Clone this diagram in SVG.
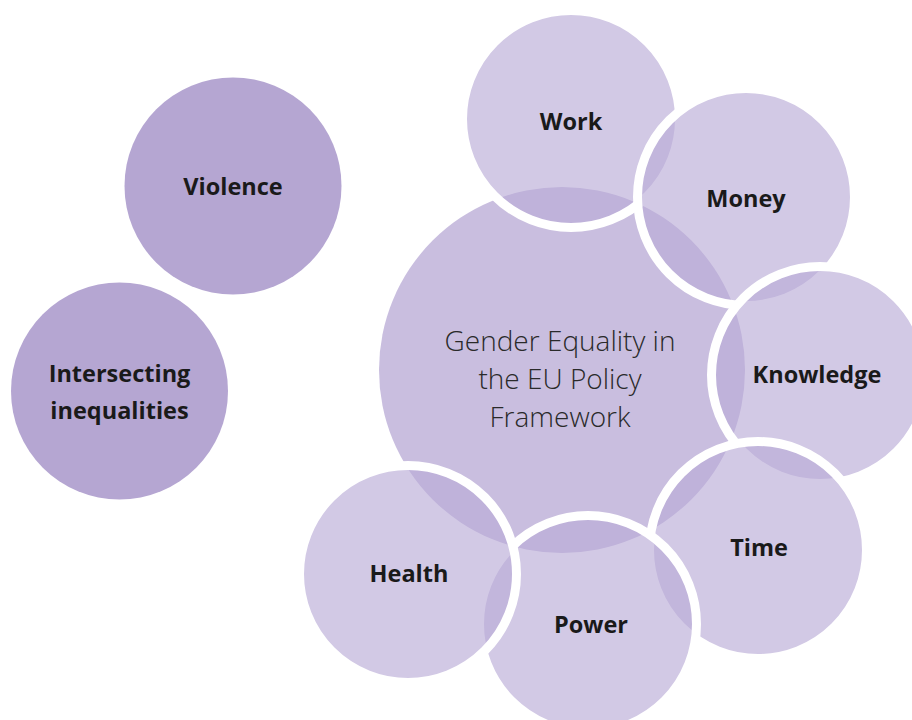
<svg xmlns="http://www.w3.org/2000/svg" width="912" height="720" viewBox="0 0 912 720">
<style>
.bg{fill:#ffffff}
.dark{fill:#b5a6d2}
.center{fill:#c9bedf}
.sat{fill:#b8aad6;fill-opacity:0.64;stroke:#ffffff;stroke-width:9}
.lbl{font-family:"Open Sans","Noto Sans","Liberation Sans",sans-serif;font-weight:700;font-size:23.5px;fill:#1a1a1a;text-anchor:middle}
.ctr{font-family:"Open Sans","Noto Sans","Liberation Sans",sans-serif;font-weight:300;font-size:28px;fill:#2a2a2a;text-anchor:middle}
</style>
<rect class="bg" x="0" y="0" width="912" height="720"/>
<g id="violence">
<circle class="dark" cx="233" cy="186" r="108.5"/>
<text class="lbl" x="233" y="195">Violence</text>
</g>
<g id="intersecting">
<circle class="dark" cx="119.5" cy="391" r="108.5"/>
<text class="lbl" x="119.5" y="382">Intersecting</text>
<text class="lbl" x="119.5" y="419">inequalities</text>
</g>
<g id="center">
<circle class="center" cx="562" cy="370" r="183"/>
<text class="ctr" x="560" y="351">Gender Equality in</text>
<text class="ctr" x="560" y="389">the EU Policy</text>
<text class="ctr" x="560" y="427">Framework</text>
</g>
<g id="work">
<circle class="sat" cx="571" cy="119" r="108.5"/>
<text class="lbl" x="571" y="130">Work</text>
</g>
<g id="money">
<circle class="sat" cx="746" cy="197" r="108.5"/>
<text class="lbl" x="746" y="207">Money</text>
</g>
<g id="knowledge">
<circle class="sat" cx="820" cy="375" r="108.5"/>
<text class="lbl" x="817" y="383">Knowledge</text>
</g>
<g id="time">
<circle class="sat" cx="758" cy="550" r="108.5"/>
<text class="lbl" x="759" y="556">Time</text>
</g>
<g id="power">
<circle class="sat" cx="588" cy="624" r="108.5"/>
<text class="lbl" x="591" y="633">Power</text>
</g>
<g id="health">
<circle class="sat" cx="408" cy="574" r="108.5"/>
<text class="lbl" x="409" y="582">Health</text>
</g>
<g id="connectors"></g>
</svg>
